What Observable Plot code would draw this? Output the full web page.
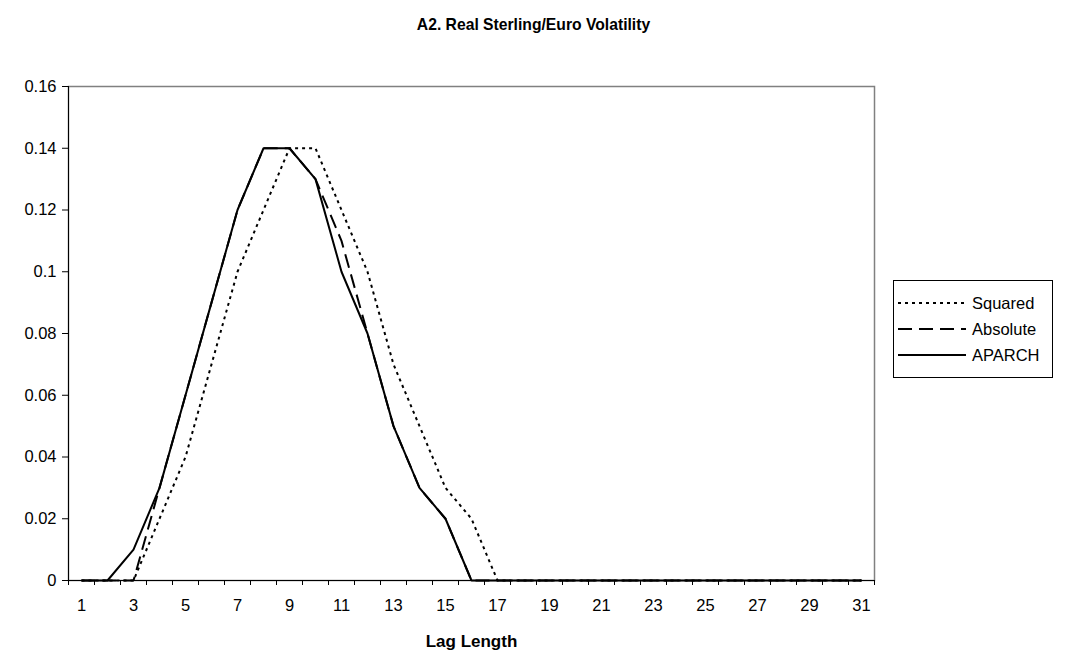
<!DOCTYPE html>
<html>
<head>
<meta charset="utf-8">
<script src="https://cdn.jsdelivr.net/npm/d3@7"></script>
<script src="https://cdn.jsdelivr.net/npm/@observablehq/plot@0.6"></script>
<style>
  html, body { margin: 0; padding: 0; background: #fff; }
  body { width: 1067px; height: 660px; position: relative; overflow: hidden;
         font-family: "Liberation Sans", Arial, sans-serif; }
  #title { height: 50px; line-height: 50px; text-align: center; font-weight: bold; font-size: 15.7px; color: #000; }
  #legend { position: absolute; left: 893px; top: 280px; width: 158px; height: 96px;
            border: 1px solid #000; background: #fff; }
  .item { position: absolute; left: 4px; height: 20px; display: flex; align-items: center; }
  .item span { font-size: 16.5px; margin-left: 6px; color: #000; }
</style>
</head>
<body>
<div id="title">A2. Real Sterling/Euro Volatility</div>
<div id="chart"></div>
<div id="legend"></div>
<script>
// ---- data ----
const lags = d3.range(1, 32);              // categories 1..31
const squared  = [0,0,0,0.02,0.04,0.07,0.10,0.12,0.14,0.14,0.12,0.10,0.07,0.05,0.03,0.02,0,0,0,0,0,0,0,0,0,0,0,0,0,0,0];
const absolute = [0,0,0,0.03,0.06,0.09,0.12,0.14,0.14,0.13,0.11,0.08,0.05,0.03,0.02,0,0,0,0,0,0,0,0,0,0,0,0,0,0,0,0];
const aparch   = [0,0,0.01,0.03,0.06,0.09,0.12,0.14,0.14,0.13,0.10,0.08,0.05,0.03,0.02,0,0,0,0,0,0,0,0,0,0,0,0,0,0,0,0];
const seriesNames = ["Squared", "Absolute", "APARCH"];
const yTicks = [0, 0.02, 0.04, 0.06, 0.08, 0.1, 0.12, 0.14, 0.16];
const xTickLabels = [1,3,5,7,9,11,13,15,17,19,21,23,25,27,29,31];
const xLabel = "Lag Length";

const dashes = {Squared: "3,4", Absolute: "14,7", APARCH: null};
const values = {Squared: squared, Absolute: absolute, APARCH: aparch};
const rows = seriesNames.flatMap(s => lags.map((l, i) => ({series: s, lag: l, value: values[s][i]})));
const boundaries = d3.range(0.5, lags.length + 1, 1);

const fmt = d => String(+d.toFixed(2));

const marks = [
  Plot.frame({stroke: "#808080", strokeWidth: 1.5}),
  Plot.ruleX([0.5], {stroke: "#000"}),
  Plot.ruleY([0], {stroke: "#000"}),
  Plot.axisY({ticks: yTicks, tickFormat: fmt, tickSize: 6, tickPadding: 6, label: null, stroke: "#000"}),
  Plot.axisX({ticks: boundaries, tickFormat: () => "", tickSize: 5, label: null, stroke: "#000"}),
  Plot.axisX({ticks: xTickLabels, tickSize: 0, tickPadding: 19, label: null}),
  ...seriesNames.map(s => Plot.line(rows.filter(d => d.series === s), {
    x: "lag", y: "value", stroke: "#000", strokeWidth: 2,
    strokeDasharray: dashes[s], strokeLinejoin: "miter", strokeLinecap: "butt"
  })),
  Plot.text([xLabel], {text: d => d, frameAnchor: "bottom", dy: 66, fontWeight: "bold", fontSize: 17, fill: "#000"})
];

const chart = Plot.plot({
  width: 1067,
  height: 610,
  marginLeft: 68,
  marginRight: 193,
  marginTop: 36,
  marginBottom: 80,
  style: {fontFamily: "'Liberation Sans', Arial, sans-serif", fontSize: "16.5px", color: "#000", background: "#fff", overflow: "visible"},
  x: {type: "linear", domain: [0.5, 31.5]},
  y: {domain: [0, 0.16]},
  marks
});
document.getElementById("chart").appendChild(chart);

// legend
const legend = document.getElementById("legend");
const legendY = [12, 38, 64];
seriesNames.forEach((s, i) => {
  const div = document.createElement("div");
  div.className = "item";
  div.style.top = legendY[i] + "px";
  const svg = d3.create("svg").attr("width", 68).attr("height", 20);
  svg.append("line").attr("x1", 0).attr("x2", 68).attr("y1", 10).attr("y2", 10)
    .attr("stroke", "#000").attr("stroke-width", 2)
    .attr("stroke-dasharray", dashes[s]);
  div.appendChild(svg.node());
  const span = document.createElement("span");
  span.textContent = s;
  div.appendChild(span);
  legend.appendChild(div);
});
</script>
</body>
</html>
